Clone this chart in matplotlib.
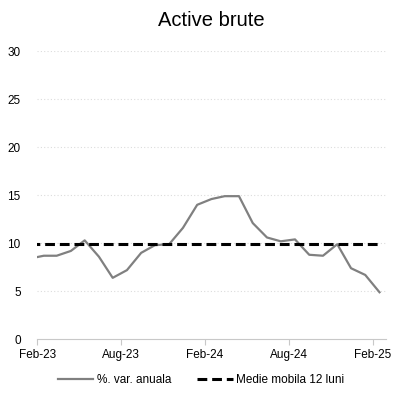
import matplotlib.pyplot as plt
import matplotlib.dates as mdates
import pandas as pd

plt.rcParams['font.family'] = ['Liberation Sans', 'DejaVu Sans']

# monthly values, Jan-23 .. Feb-25 (plotted mid-month)
months = pd.date_range('2023-01-01', periods=26, freq='MS') + pd.Timedelta(days=14)
var_anuala = [8.4, 8.7, 8.7, 9.2, 10.3, 8.6, 6.4, 7.2, 9.0, 9.8, 9.9, 11.6,
              14.0, 14.6, 14.9, 14.9, 12.1, 10.6, 10.2, 10.4, 8.8, 8.7, 9.9,
              7.4, 6.7, 4.9]
medie_mobila = [9.9] * 26

tick_dates = pd.to_datetime(['2023-02-01', '2023-08-01', '2024-02-01',
                             '2024-08-01', '2025-02-01'])

fig = plt.figure(figsize=(4.02, 3.97), dpi=100)
ax = fig.add_axes([0.093, 0.1453, 0.867, 0.726])

ax.plot(months, var_anuala, color='#808080', lw=1.6, label='%. var. anuala')
ax.plot(months, medie_mobila, color='black', lw=2.2, dashes=(3.2, 1.6),
        label='Medie mobila 12 luni')

ax.set_xlim(pd.Timestamp('2023-02-01'), pd.Timestamp('2025-03-01'))
ax.set_ylim(0, 30)
ax.set_yticks(range(0, 31, 5))
ax.set_xticks(tick_dates)
ax.xaxis.set_major_formatter(mdates.DateFormatter('%b-%y'))

# faint dotted gridlines
for y in range(5, 31, 5):
    ax.axhline(y, color='#dcdcdc', lw=0.8, ls=(0, (1, 2)), zorder=0)

for s in ['top', 'right', 'left']:
    ax.spines[s].set_visible(False)
ax.spines['bottom'].set_color('#c8c8c8')
ax.tick_params(axis='y', length=0, pad=12, labelsize=8.5)
ax.tick_params(axis='x', length=4, color='#c8c8c8', pad=3, labelsize=8.5)

ax.set_title('Active brute', fontsize=14.5, pad=18)

fig.legend(loc='center', bbox_to_anchor=(0.5, 0.043), ncol=2, frameon=False,
           fontsize=8.5, handlelength=3.0, handletextpad=0.3, columnspacing=2.2)

fig.savefig('out.png', dpi=100)
